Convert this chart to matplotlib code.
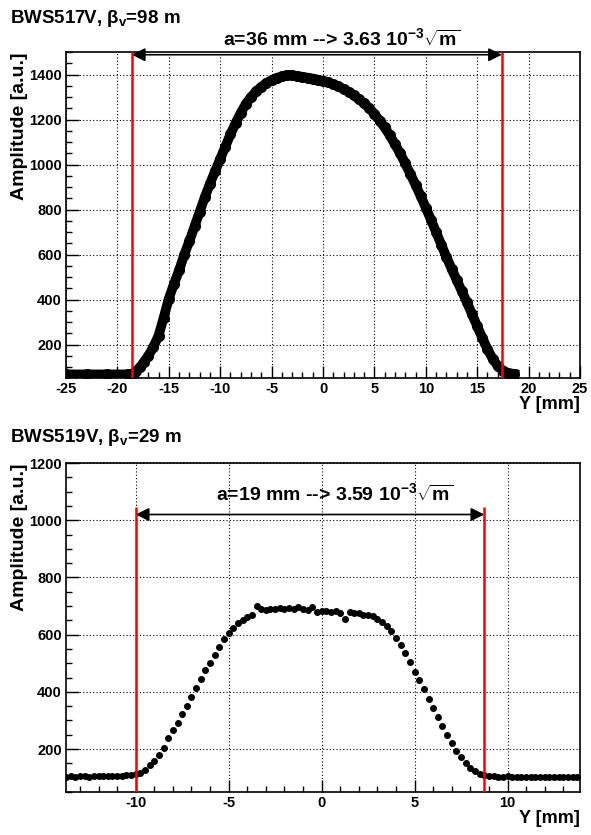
import numpy as np
import matplotlib
matplotlib.use('Agg')
import matplotlib.pyplot as plt
from matplotlib.ticker import MultipleLocator

plt.rcParams['font.family'] = ['Liberation Sans', 'DejaVu Sans']
plt.rcParams['font.weight'] = 'bold'
plt.rcParams['axes.unicode_minus'] = False
plt.rcParams['mathtext.fontset'] = 'custom'
plt.rcParams['mathtext.rm'] = 'Liberation Sans:bold'
plt.rcParams['mathtext.bf'] = 'Liberation Sans:bold'
plt.rcParams['mathtext.it'] = 'Liberation Sans:bold'

# --- BWS517V scan (top pad)
top_pos = [-25.0, -23.0, -21.0, -19.0, -18.6, -18.2, -17.8, -17.4, -17.0, -16.5,
           -16.0, -15.5, -15.0, -14.5, -14.0, -13.5, -13.0, -12.5, -12.0, -11.5,
           -11.0, -10.5, -10.0, -9.5, -9.0, -8.5, -8.0, -7.5, -7.0, -6.5,
           -6.0, -5.5, -5.0, -4.5, -4.0, -3.5, -3.0, -2.5, -2.0, -1.5,
           -1.0, -0.5, 0.0, 0.5, 1.0, 1.5, 2.0, 2.5, 3.0, 3.5,
           4.0, 4.5, 5.0, 5.5, 6.0, 6.5, 7.0, 7.5, 8.0, 8.5,
           9.0, 9.5, 10.0, 10.5, 11.0, 11.5, 12.0, 12.5, 13.0, 13.5,
           14.0, 14.5, 15.0, 15.5, 16.0, 16.5, 17.0, 17.5, 18.0, 18.6]
top_amp = [68, 68, 68, 68, 70, 82, 100, 125, 150, 190,
           240, 320, 405, 470, 530, 600, 660, 725, 790, 855,
           915, 970, 1025, 1080, 1135, 1185, 1230, 1270, 1300, 1325,
           1345, 1362, 1375, 1385, 1392, 1398, 1396, 1393, 1390, 1386,
           1382, 1377, 1372, 1365, 1357, 1347, 1336, 1323, 1308, 1290,
           1272, 1250, 1225, 1195, 1165, 1130, 1090, 1050, 1005, 958,
           910, 860, 808, 755, 700, 645, 590, 538, 488, 438,
           388, 335, 282, 230, 180, 138, 105, 85, 74, 70]
top_edges = [-18.6, 17.4]
top_text = r'a=36 mm --> 3.63 10$^{-3}$$\sqrt{m}$'
top_title = r'BWS517V, β$_{v}$=98 m'

# --- BWS519V scan (bottom pad)
bot_pos = [-13.75, -13.5, -13.25, -13.0, -12.75, -12.5, -12.25, -12.0, -11.75, -11.5,
           -11.25, -11.0, -10.75, -10.5, -10.25, -10.0, -9.75, -9.5, -9.25, -9.0,
           -8.75, -8.5, -8.25, -8.0, -7.75, -7.5, -7.25, -7.0, -6.75, -6.5,
           -6.25, -6.0, -5.75, -5.5, -5.25, -5.0, -4.75, -4.5, -4.25, -4.0,
           -3.75, -3.5, -3.25, -3.0, -2.75, -2.5, -2.25, -2.0, -1.75, -1.5,
           -1.25, -1.0, -0.75, -0.5, -0.25, 0.0, 0.25, 0.5, 0.75, 1.0,
           1.25, 1.5, 1.75, 2.0, 2.25, 2.5, 2.75, 3.0, 3.25, 3.5,
           3.75, 4.0, 4.25, 4.5, 4.75, 5.0, 5.25, 5.5, 5.75, 6.0,
           6.25, 6.5, 6.75, 7.0, 7.25, 7.5, 7.75, 8.0, 8.25, 8.5,
           8.75, 9.0, 9.25, 9.5, 9.75, 10.0, 10.25, 10.5, 10.75, 11.0,
           11.25, 11.5, 11.75, 12.0, 12.25, 12.5, 12.75, 13.0, 13.25, 13.5,
           13.75]
bot_amp = [104, 105, 104, 105, 105, 104, 106, 105, 105, 106,
           106, 107, 107, 108, 109, 112, 118, 128, 145, 160,
           180, 205, 238, 265, 292, 322, 350, 383, 415, 445,
           475, 500, 528, 557, 585, 605, 625, 642, 652, 660,
           668, 700, 690, 685, 690, 688, 692, 689, 693, 688,
           696, 690, 686, 695, 680, 682, 684, 679, 681, 676,
           655, 678, 674, 675, 670, 668, 664, 655, 645, 630,
           612, 590, 565, 535, 505, 470, 440, 410, 375, 345,
           312, 282, 250, 222, 195, 172, 150, 135, 122, 114,
           109, 106, 105, 104, 104, 105, 104, 103, 104, 104,
           103, 104, 104, 103, 104, 103, 104, 103, 103, 104,
           103]
bot_edges = [-10.0, 8.75]
bot_text = r'a=19 mm --> 3.59 10$^{-3}$$\sqrt{m}$'
bot_title = r'BWS519V, β$_{v}$=29 m'

fig = plt.figure(figsize=(5.91, 8.35), dpi=100)
ax1 = fig.add_axes([0.1117, 0.5473, 0.8697, 0.3904])
ax2 = fig.add_axes([0.1117, 0.0515, 0.8697, 0.3940])


def style(ax, xlim, ylim):
    ax.set_xlim(*xlim)
    ax.set_ylim(*ylim)
    ax.xaxis.set_major_locator(MultipleLocator(5))
    ax.xaxis.set_minor_locator(MultipleLocator(1))
    ax.yaxis.set_major_locator(MultipleLocator(200))
    ax.yaxis.set_minor_locator(MultipleLocator(50))
    ax.tick_params(which='both', direction='in', top=False, right=False,
                   labelsize=10.5, width=1.0, pad=3)
    ax.tick_params(which='major', length=9)
    ax.tick_params(which='minor', length=4.5)
    for lab in ax.get_xticklabels() + ax.get_yticklabels():
        lab.set_fontweight('bold')
    ax.grid(True, which='major', color='black', ls=(0, (1, 2)), lw=0.8)
    for s in ax.spines.values():
        s.set_linewidth(1.2)
    ax.set_xlabel('Y [mm]', loc='right', fontsize=13, fontweight='bold', labelpad=0)
    ax.set_ylabel('Amplitude [a.u.]', loc='top', fontsize=14, fontweight='bold', labelpad=1)


style(ax1, (-25, 25), (52, 1500))
style(ax2, (-13.75, 13.9), (50, 1200))
ax1.set_yticks([200, 400, 600, 800, 1000, 1200, 1400])

ax1.plot(top_pos, top_amp, '-o', color='black', lw=7, ms=7, zorder=3)
ax2.plot(bot_pos, bot_amp, 'o', color='black', ms=4, zorder=3)

# edges of the beam and aperture arrows
ax1.vlines(top_edges, 52, 1500, color='red', lw=1.8, zorder=4)
ax2.vlines(bot_edges, 50, 1045, color='red', lw=1.8, zorder=4)
ax1.annotate('', xy=(top_edges[0], 1488), xytext=(top_edges[1], 1488),
             arrowprops=dict(arrowstyle='<|-|>', color='black', lw=1.2,
                             mutation_scale=20, shrinkA=0, shrinkB=0))
ax2.annotate('', xy=(bot_edges[0], 1020), xytext=(bot_edges[1], 1020),
             arrowprops=dict(arrowstyle='<|-|>', color='black', lw=1.2,
                             mutation_scale=20, shrinkA=0, shrinkB=0))

fig.text(0.578, 0.9545, top_text, ha='center', va='center', fontsize=14, fontweight='bold')
fig.text(0.566, 0.4096, bot_text, ha='center', va='center', fontsize=14, fontweight='bold')
fig.text(0.017, 0.978, top_title, ha='left', va='center', fontsize=13.5, fontweight='bold')
fig.text(0.017, 0.4766, bot_title, ha='left', va='center', fontsize=13.5, fontweight='bold')

fig.savefig('out.png', dpi=100)
